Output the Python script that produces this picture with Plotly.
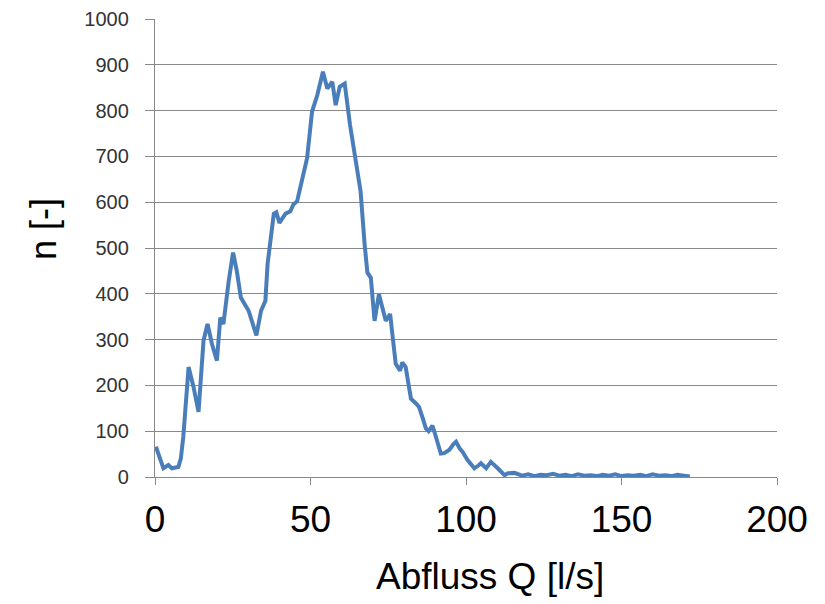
import plotly.graph_objects as go

# Abfluss Q [l/s]
q = [0.3, 1.5, 2.7, 4.3, 5.4, 7.5, 8.3, 9.1, 10.0, 10.8, 12.4, 14.0, 15.6, 16.9, 18.3,
     19.9, 21.0, 22.0, 23.7, 25.1, 26.3, 27.6, 30.1, 32.6, 34.1, 35.5, 36.2, 37.6, 38.2,
     39.0, 40.0, 41.0, 42.0, 43.5, 44.5, 45.7, 47.0, 48.9, 50.5, 52.2, 54.0, 55.4, 57.0,
     58.1, 59.4, 61.0, 62.7, 64.5, 66.1, 67.4, 68.3, 69.4, 70.6, 72.0, 73.0, 74.2, 75.6,
     76.9, 77.4, 78.8, 79.5, 80.6, 82.3, 84.0, 84.9, 86.0, 87.1, 88.0, 89.2, 90.0, 91.9,
     93.0, 94.6, 96.0, 96.8, 98.0, 98.9, 100.5, 102.7, 104.0, 104.8, 106.5, 108.0, 110.2,
     112.4, 113.5, 115.6, 118.0, 120.0, 122.0, 124.0, 126.0, 128.0, 130.0, 132.0, 134.0,
     136.0, 138.0, 140.0, 142.0, 144.0, 146.0, 148.0, 150.0, 152.0, 154.0, 156.0, 158.0,
     160.0, 162.0, 164.0, 166.0, 168.0, 170.0, 172.0, 174.0, 175.8]
# Anzahl n [-]
n = [66, 40, 19, 26, 19, 22, 40, 88, 170, 240, 196, 142, 298, 334, 291,
     254, 348, 334, 428, 490, 450, 392, 363, 309, 363, 385, 465, 537, 575,
     578, 555, 565, 575, 580, 595, 602, 640, 696, 798, 834, 885, 848, 863,
     812, 852, 859, 769, 689, 624, 508, 446, 435, 341, 399, 370, 341, 356,
     283, 247, 232, 250, 240, 171, 160, 153, 130, 106, 100, 112, 95, 51,
     52, 59, 72, 77, 62, 55, 37, 19, 25, 30, 19, 33, 19,
     4, 8, 9, 3, 6, 2, 5, 4, 7, 3, 5,
     2, 6, 3, 4, 2, 5, 3, 6, 2, 4, 3,
     5, 2, 6, 3, 4, 2, 5, 3, 1]

x_ticks = [0, 50, 100, 150, 200]
y_ticks = [0, 100, 200, 300, 400, 500, 600, 700, 800, 900, 1000]

x_title = "Abfluss Q [l/s]"
y_title = "n [-]"

fig = go.Figure()
fig.add_trace(go.Scatter(x=q, y=n, mode="lines",
                         line=dict(color="#4A7EBB", width=4),
                         showlegend=False))

fig.update_layout(
    width=825, height=604,
    margin=dict(l=147, r=56, t=11, b=135),
    paper_bgcolor="white", plot_bgcolor="white",
    font=dict(family="Liberation Sans, Arial, sans-serif", color="#000000"),
    xaxis=dict(range=[0, 200], tickvals=x_ticks, ticktext=[str(v) for v in x_ticks],
               automargin=False,
               showgrid=False, zeroline=False,
               showline=True, linecolor="#888888", linewidth=1.3,
               ticks="outside", ticklen=7, tickcolor="#888888", tickwidth=1.3,
               tickfont=dict(size=37, color="#000000"),
               ticklabelstandoff=2),
    yaxis=dict(range=[0, 1000], tickvals=y_ticks,
               automargin=False,
               showgrid=True, gridcolor="#888888", gridwidth=1.3,
               zeroline=False,
               showline=True, linecolor="#888888", linewidth=1.3,
               ticks="outside", ticklen=9, tickcolor="#888888", tickwidth=1.3,
               tickfont=dict(size=20, color="#333333"),
               ticklabelstandoff=12),
    annotations=[
        dict(text=x_title, xref="paper", yref="paper",
             x=(490 - 155) / 622, y=-(576 - 477) / 458,
             xanchor="center", yanchor="middle", showarrow=False,
             font=dict(size=37, color="#000000")),
        dict(text=y_title, xref="paper", yref="paper",
             x=-(155 - 44) / 622, y=(477 - 229) / 458,
             xanchor="center", yanchor="middle", showarrow=False, textangle=-90,
             font=dict(size=36, color="#000000")),
    ],
)

fig.write_html("out.html")
